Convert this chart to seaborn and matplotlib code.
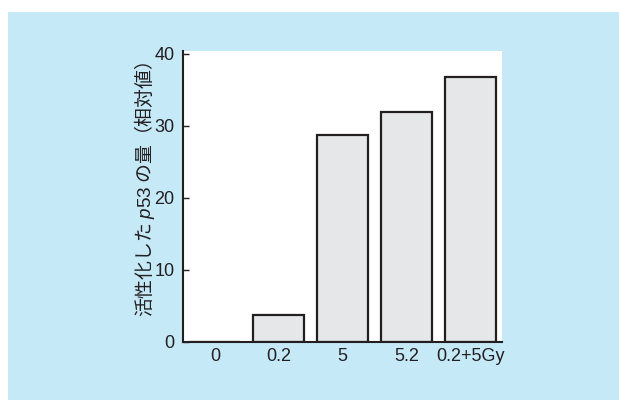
import matplotlib
matplotlib.use("Agg")
import matplotlib.pyplot as plt
import seaborn as sns
import pandas as pd
from matplotlib.patches import Rectangle

# Radiation dose groups and the measured amount of activated p53
doses = ["0", "0.2", "5", "5.2", "0.2+5Gy"]
p53_level = [0.0, 3.8, 28.7, 31.9, 36.8]
y_ticks = [0, 10, 20, 30, 40]

INK = "#231f20"
PANEL = "#c6e9f8"
BAR = "#e6e7e9"

sns.set_theme(style="white")
plt.rcParams["font.family"] = ["Liberation Sans", "Noto Sans CJK JP", "DejaVu Sans"]
plt.rcParams["mathtext.fontset"] = "custom"
plt.rcParams["mathtext.it"] = "Liberation Sans:italic"
plt.rcParams["mathtext.rm"] = "Liberation Sans"

fig = plt.figure(figsize=(6.19, 4.0), dpi=100)
fig.patch.set_facecolor("white")
# light blue panel behind the chart
fig.patches.append(Rectangle((8 / 619, 0), 1 - 8 / 619, 1 - 12 / 400,
                             transform=fig.transFigure, facecolor=PANEL,
                             edgecolor="none", zorder=-10))

ax = fig.add_axes([183 / 619, 58 / 400, 319 / 619, 291 / 400])
ax.set_zorder(1)
ax.set_facecolor("white")

df = pd.DataFrame({"dose": doses, "level": p53_level})
sns.barplot(data=df, x="dose", y="level", color=BAR, edgecolor=INK,
            linewidth=1.6, width=0.8, saturation=1, ax=ax, zorder=3)

ax.set_xlim(-0.5, 4.5)
ax.set_ylim(0, 40.4)
ax.set_yticks(y_ticks)
ax.set_yticklabels([str(t) for t in y_ticks])

for side in ("top", "right"):
    ax.spines[side].set_visible(False)
for side in ("left", "bottom"):
    ax.spines[side].set_color(INK)
    ax.spines[side].set_linewidth(1.5)
    ax.spines[side].set_zorder(5)

ax.tick_params(axis="y", direction="in", length=4, width=1, color=INK,
               labelsize=13, labelcolor=INK, pad=6, left=True)
ax.tick_params(axis="x", length=0, labelsize=13, labelcolor=INK, pad=4)

ax.set_xlabel("")
ax.set_ylabel("活性化した $\\mathit{p53}$ の量（相対値）", fontsize=13.6, color=INK,
              family=["Noto Sans CJK JP", "DejaVu Sans"])
ax.yaxis.set_label_coords(-0.083, 0.524)

fig.savefig("out.png", dpi=100, facecolor=fig.get_facecolor())
